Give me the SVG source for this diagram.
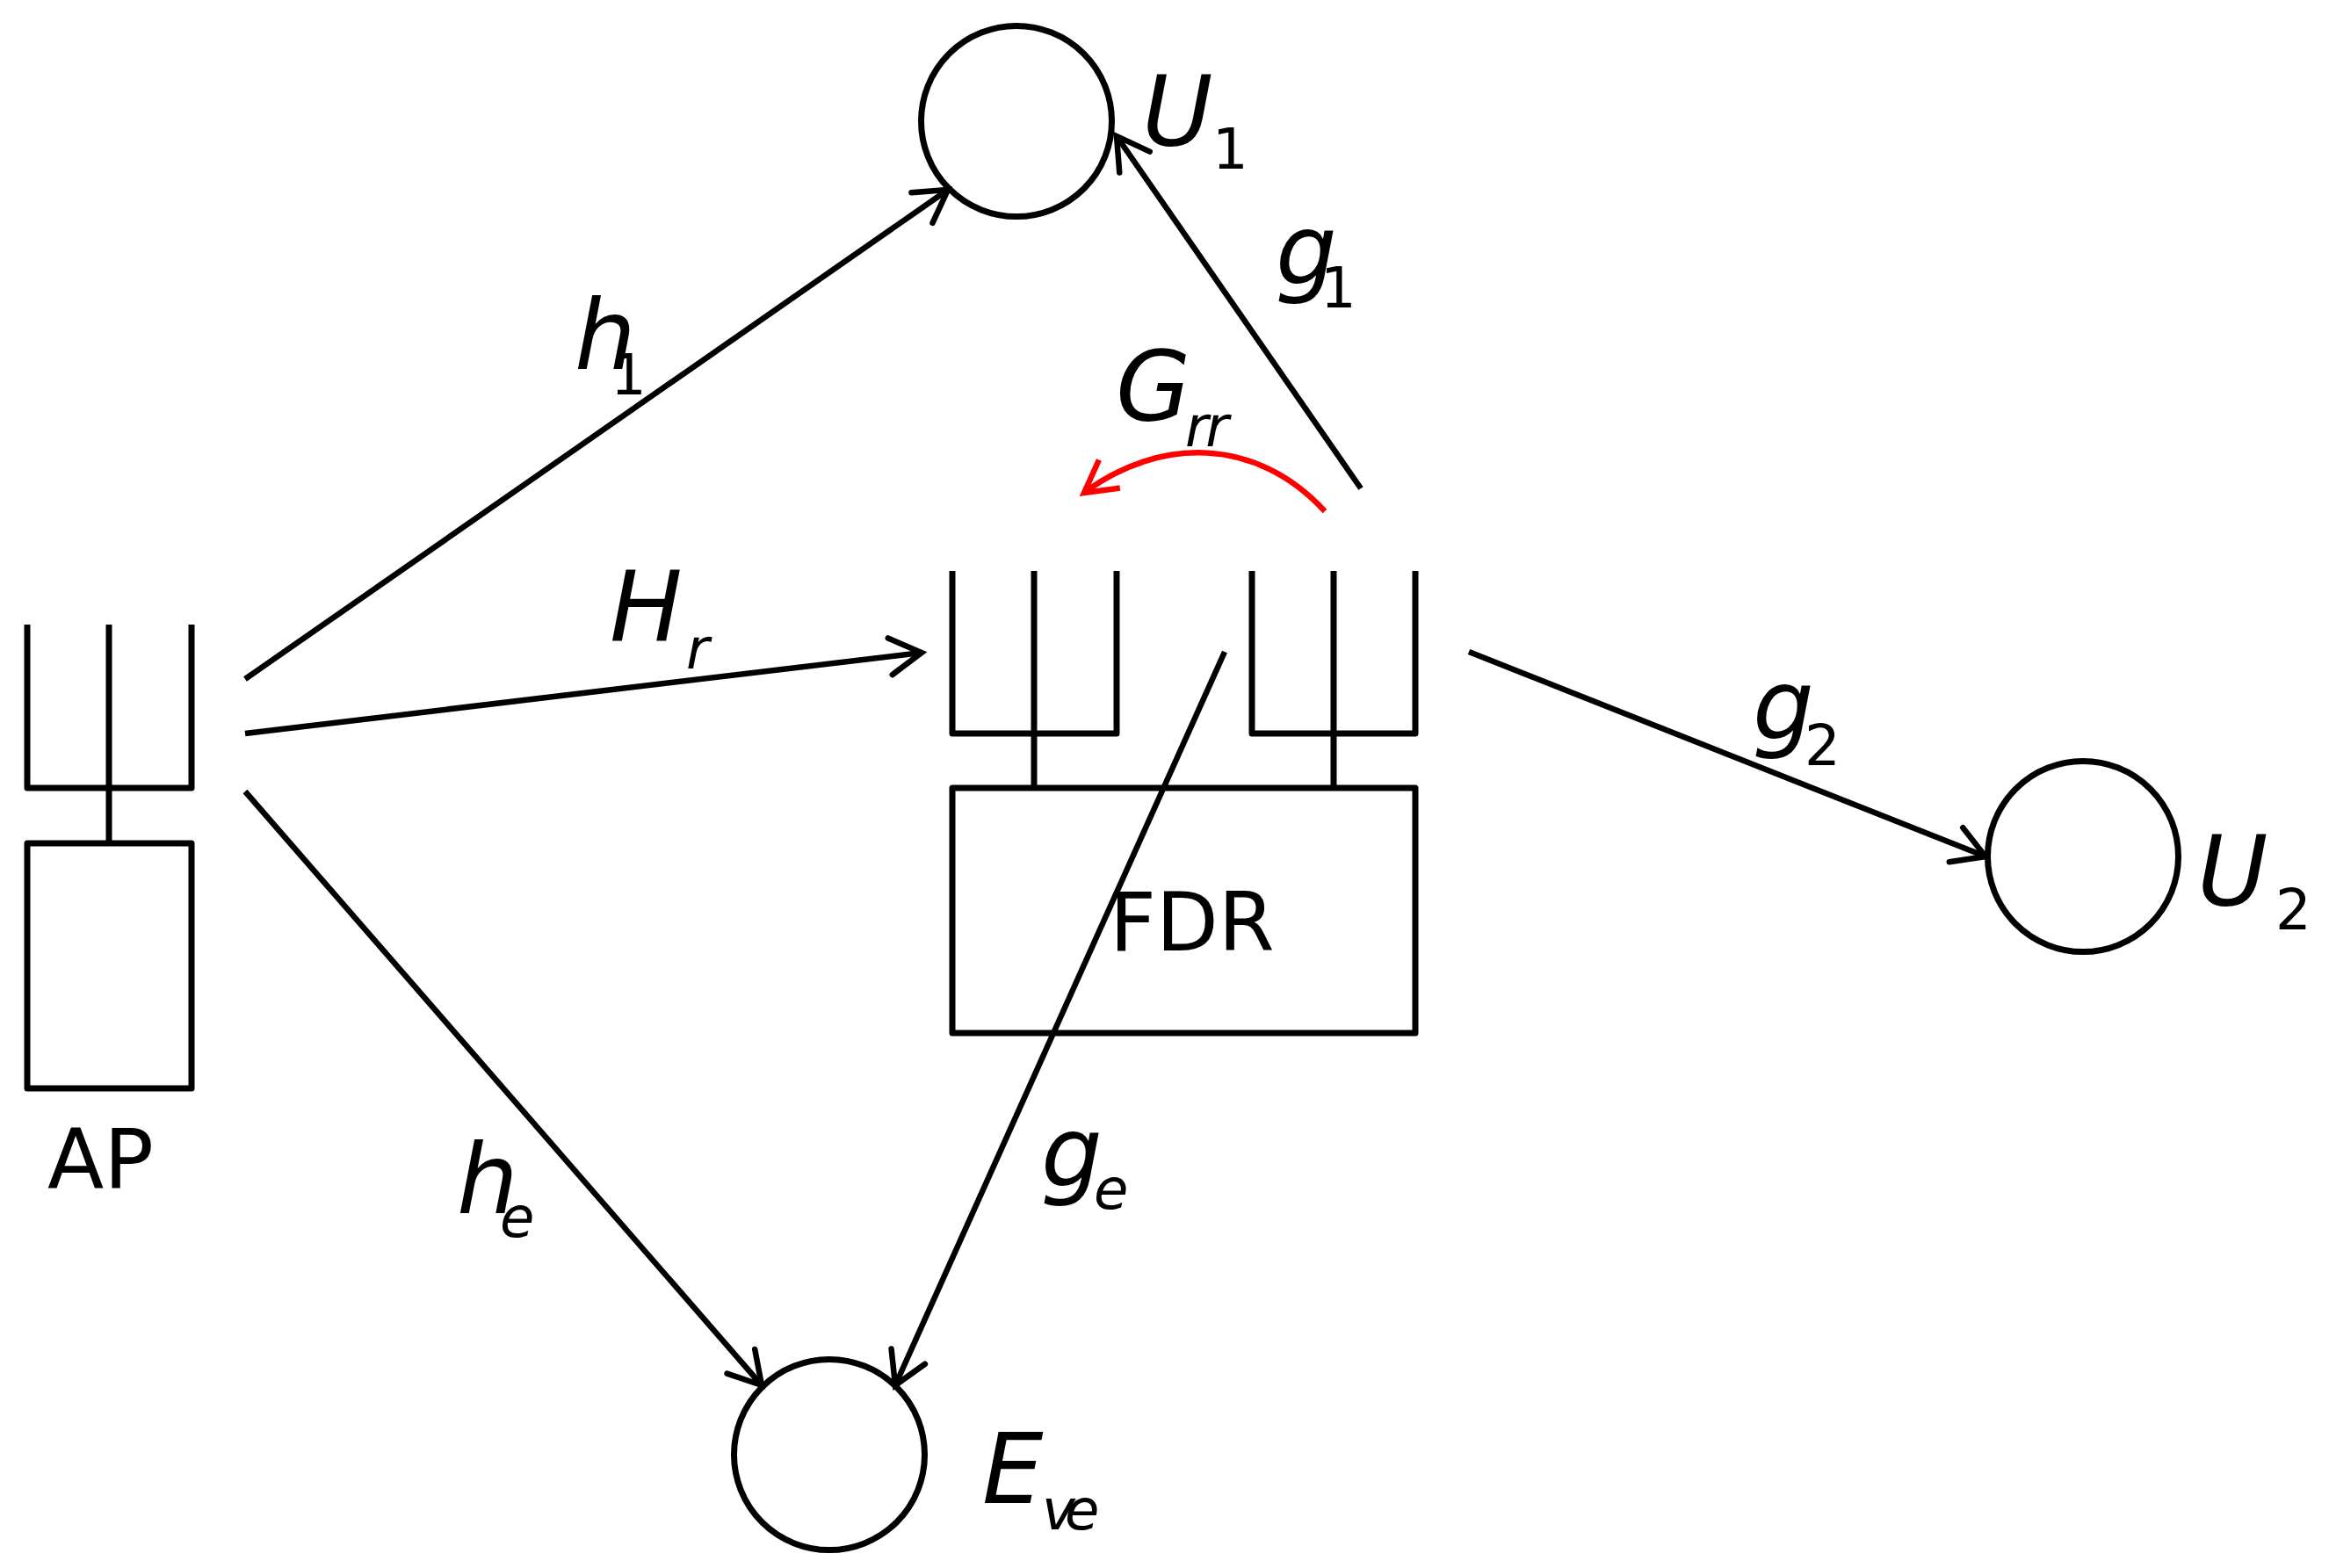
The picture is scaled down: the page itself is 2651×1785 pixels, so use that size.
<svg xmlns="http://www.w3.org/2000/svg" width="2651" height="1785" viewBox="0 0 2651 1785">
<style>
.s{fill:none;stroke:#000;stroke-width:7;stroke-linejoin:round;stroke-linecap:butt}
.c{fill:none;stroke:#000;stroke-width:6.5}
.t{font-family:"DejaVu Sans",sans-serif;fill:#000}
.m{font-style:italic;font-size:110px}
.i{font-style:italic;font-size:64px}
.n{font-size:64px}
.l{font-size:94px}
</style>
<defs>
<marker id="a" markerUnits="userSpaceOnUse" markerWidth="60" markerHeight="60" viewBox="-50 -30 60 60" refX="0" refY="0" orient="auto"><path d="M-36,-21L0,0L-36,21" fill="none" stroke="#000" stroke-width="6.5" stroke-linecap="round"/></marker>
<marker id="r" markerUnits="userSpaceOnUse" markerWidth="60" markerHeight="60" viewBox="-50 -30 60 60" refX="0" refY="0" orient="auto"><path d="M-36,-20L0,0L-36,20" fill="none" stroke="#f00" stroke-width="6.5"/></marker>
</defs>
<rect width="2651" height="1785" fill="#fff"/>
<g id="connectors">
<path class="c" marker-end="url(#a)" d="M279,773L1079,216"/>
<path class="c" marker-end="url(#a)" d="M279,835L1049,743"/>
<path class="c" marker-end="url(#a)" d="M279,901L867,1577"/>
<path class="c" marker-end="url(#a)" d="M1549,556L1271,155"/>
<path class="c" marker-end="url(#a)" d="M1672,742L2260,975"/>
<path class="c" marker-end="url(#a)" d="M1394,742L1019,1577"/>
<path fill="none" stroke="#f00" stroke-width="6.5" marker-end="url(#r)" d="M1508,582C1430,497 1320,497 1234,561"/>
</g>
<g id="ap">
<path class="s" d="M31,711V897H218V711M124,711V960"/>
<rect class="s" x="31" y="960" width="187" height="279"/>
<text class="t l" x="54" y="1353">AP</text>
</g>
<g id="fdr">
<path class="s" d="M1084,650V835H1271V650M1177,650V897"/>
<path class="s" d="M1425,650V835H1611V650M1518,650V897"/>
<rect class="s" x="1084" y="897" width="527" height="279"/>
<text class="t" x="1263" y="1082" font-size="92">FDR</text>
</g>
<g id="u1"><circle class="s" cx="1157" cy="138" r="108.500"/>
<text class="t m" x="1300" y="165">U</text><text class="t n" x="1380" y="192">1</text></g>
<g id="u2"><circle class="s" cx="2371" cy="975" r="108.500"/>
<text class="t m" x="2501" y="1030">U</text><text class="t n" x="2590" y="1058">2</text></g>
<g id="eve"><circle class="s" cx="944" cy="1656" r="108.500"/>
<text class="t m" x="1118" y="1711">E</text><text class="t i" x="1186" y="1741" letter-spacing="-12">ve</text></g>
<g id="labels">
<text class="t m" x="654" y="420">h</text><text class="t n" x="695" y="449">1</text>
<text class="t m" x="694" y="729">H</text><text class="t i" x="781" y="761">r</text>
<text class="t m" x="520" y="1381">h</text><text class="t i" x="569" y="1408">e</text>
<text class="t m" x="1452" y="323">g</text><text class="t n" x="1503" y="350">1</text>
<text class="t m" x="1270" y="478">G</text><text class="t i" x="1349" y="508" letter-spacing="-3">rr</text>
<text class="t m" x="1995" y="841">g</text><text class="t n" x="2054" y="871">2</text>
<text class="t m" x="1185" y="1350">g</text><text class="t i" x="1245" y="1376">e</text>
</g>
</svg>
